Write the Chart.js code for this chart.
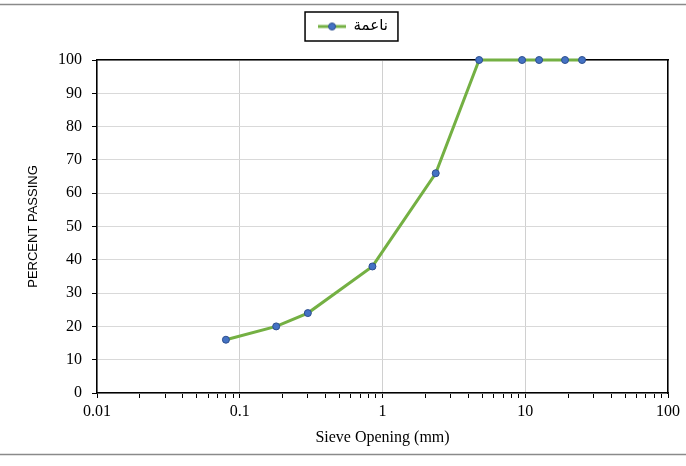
<!DOCTYPE html>
<html>
<head>
<meta charset="utf-8">
<script src="https://cdn.jsdelivr.net/npm/chart.js@4"></script>
<style>
  html, body { margin: 0; padding: 0; background: #fff; }
</style>
</head>
<body>
<canvas id="granulometria" width="686" height="466"></canvas>
<script>
// sieve opening (mm) and percent passing
const sieveSizes = [0.08, 0.18, 0.3, 0.85, 2.36, 4.75, 9.5, 12.5, 19, 25];
const passing = [16, 20, 24, 38, 66, 100, 100, 100, 100, 100];
const seriesLabel = 'ناعمة';
const xDecades = [0.01, 0.1, 1, 10, 100];

const verde = '#74b043';
const azul = '#4472c4';
const azulBorde = '#2d4f8e';

// 1..9 per decade, like the excel log axis minor ticks
const xTicks = [];
xDecades.forEach((d, i) => {
    if (i === xDecades.length - 1) { xTicks.push(d); return; }
    for (let k = 1; k <= 9; k++) xTicks.push(k === 1 ? d : k * d);
});

// legend sample: line with a marker in the middle
const marca = document.createElement('canvas');
marca.width = 28;
marca.height = 10;
const mc = marca.getContext('2d');
mc.strokeStyle = verde;
mc.lineWidth = 3;
mc.beginPath(); mc.moveTo(0, 5); mc.lineTo(28, 5); mc.stroke();
mc.beginPath(); mc.arc(14, 5, 3.5, 0, Math.PI * 2);
mc.fillStyle = azul; mc.fill();
mc.strokeStyle = azulBorde; mc.lineWidth = 1; mc.stroke();

const lineasPagina = {
    id: 'lineasPagina',
    beforeDraw(chart) {
        const ctx = chart.ctx;
        ctx.save();
        ctx.fillStyle = '#fff';
        ctx.fillRect(0, 0, chart.width, chart.height);
        ctx.strokeStyle = '#8a8a8a';
        ctx.lineWidth = 1.5;
        ctx.beginPath();
        ctx.moveTo(0, 4.5); ctx.lineTo(chart.width, 4.5);
        ctx.moveTo(0, 454.5); ctx.lineTo(chart.width, 454.5);
        ctx.stroke();
        ctx.restore();
    }
};

const marcoLeyenda = {
    id: 'marcoLeyenda',
    afterDraw(chart) {
        const hb = chart.legend.legendHitBoxes[0];
        if (!hb) return;
        const ctx = chart.ctx;
        ctx.save();
        ctx.strokeStyle = '#000';
        ctx.lineWidth = 1.5;
        ctx.strokeRect(hb.left - 13, hb.top - 7, hb.width + 23, hb.height + 14);
        ctx.restore();
    }
};

const fuenteNum = { family: "'Liberation Serif'", size: 16 };

const data = {
    datasets: [{
        label: seriesLabel,
        data: sieveSizes.map((s, i) => ({ x: s, y: passing[i] })),
        borderColor: verde,
        backgroundColor: azul,
        borderWidth: 3,
        pointRadius: 3.5,
        pointBackgroundColor: azul,
        pointBorderColor: azulBorde,
        pointBorderWidth: 1,
        tension: 0,
        clip: false
    }]
};

const config = {
    type: 'line',
    data: data,
    options: {
        responsive: false,
        animation: false,
        layout: { padding: { left: 20, top: 0, right: 0, bottom: 0 } },
        scales: {
            x: {
                type: 'logarithmic',
                min: 0.01,
                max: 100,
                afterBuildTicks: s => { s.ticks = xTicks.map(v => ({ value: v })); },
                afterFit: s => { s.height = 73; },
                ticks: {
                    autoSkip: false,
                    maxRotation: 0,
                    padding: 4,
                    color: '#000',
                    font: fuenteNum,
                    callback: v => xDecades.includes(v) ? String(v) : ''
                },
                grid: {
                    color: c => (c.tick && xDecades.includes(c.tick.value)) ? '#d0d0d0' : 'rgba(0,0,0,0)',
                    tickColor: '#000',
                    tickLength: 5
                },
                border: { color: '#000', width: 1.5 },
                title: {
                    display: true,
                    text: 'Sieve Opening (mm)',
                    color: '#000',
                    font: fuenteNum,
                    padding: { top: 0, bottom: 19 }
                }
            },
            y: {
                min: 0,
                max: 100,
                afterFit: s => { s.width = 77; },
                ticks: { stepSize: 10, padding: 10, color: '#000', font: fuenteNum },
                grid: { color: '#d9d9d9', tickColor: '#000', tickLength: 5 },
                border: { color: '#000', width: 1.5 },
                title: {
                    display: true,
                    text: 'PERCENT PASSING',
                    color: '#000',
                    font: { family: "'Liberation Sans'", size: 13 },
                    padding: { top: 6, bottom: 0 }
                }
            },
            xTop: {
                type: 'linear',
                position: 'top',
                min: 0,
                max: 1,
                afterFit: s => { s.height = 16; },
                ticks: { display: false },
                grid: { display: false, drawTicks: false },
                border: { display: true, color: '#000', width: 1.5 }
            },
            yRight: {
                type: 'linear',
                position: 'right',
                min: 0,
                max: 100,
                afterFit: s => { s.width = 18; },
                ticks: { display: false },
                grid: { display: false, drawTicks: false },
                border: { display: true, color: '#000', width: 1.5 }
            }
        },
        plugins: {
            legend: {
                position: 'top',
                labels: {
                    usePointStyle: true,
                    pointStyle: marca,
                    pointStyleWidth: 28,
                    padding: 19,
                    color: '#000',
                    font: { family: "'DejaVu Sans'", size: 15 }
                }
            },
            tooltip: { enabled: false }
        }
    },
    plugins: [lineasPagina, marcoLeyenda]
};

const curva = new Chart(
    document.getElementById('granulometria'),
    config
);
</script>
</body>
</html>
